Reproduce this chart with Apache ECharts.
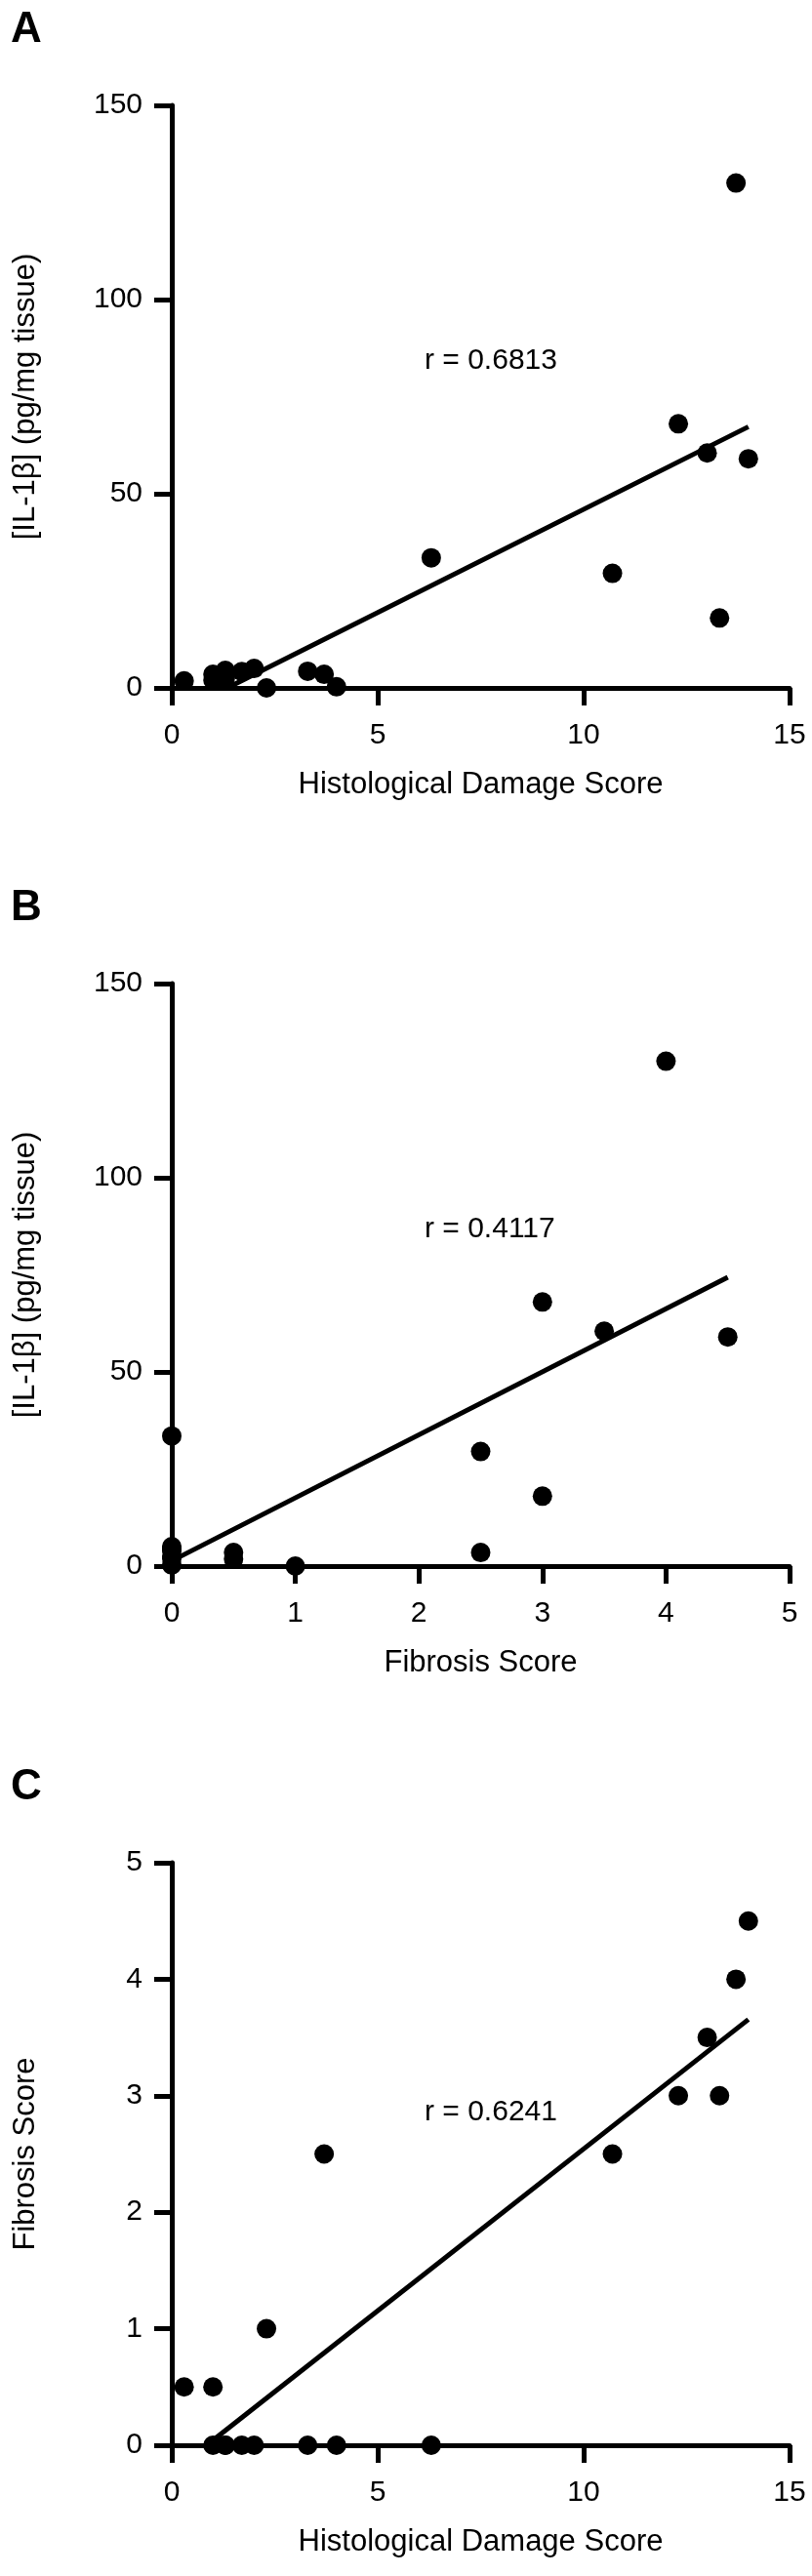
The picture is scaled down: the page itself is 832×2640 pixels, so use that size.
<!DOCTYPE html>
<html><head><meta charset="utf-8">
<script src="https://cdn.jsdelivr.net/npm/echarts@6/dist/echarts.min.js"></script>
<style>html,body{margin:0;padding:0;background:#fff}#c{width:832px;height:2640px}</style>
</head><body><div id="c"></div>
<script>
// per-sample values
const histology = [0.3, 1.0, 1.0, 1.3, 1.3, 1.7, 2.0, 2.3, 3.3, 3.7, 4.0, 6.3, 10.7, 12.3, 13.0, 13.3, 13.7, 14.0];
const il1b      = [1.8, 3.5, 2.0, 4.5, 2.5, 4.2, 5.0, 0.0, 4.3, 3.5, 0.3, 33.5, 29.5, 68, 60.5, 18, 130, 59];
const fibrosis  = [0.5, 0.5, 0.0, 0.0, 0.0, 0.0, 0.0, 1.0, 0.0, 2.5, 0.0, 0.0, 2.5, 3.0, 3.5, 3.0, 4.0, 4.5];
const rLabels = ['r = 0.6813', 'r = 0.4117', 'r = 0.6241'];
const panelLetters = ['A', 'B', 'C'];

function fit(xs, ys){
  const n = xs.length; let mx=0,my=0; for(let i=0;i<n;i++){mx+=xs[i];my+=ys[i];} mx/=n; my/=n;
  let sxy=0,sxx=0; for(let i=0;i<n;i++){sxy+=(xs[i]-mx)*(ys[i]-my); sxx+=(xs[i]-mx)**2;}
  const b=sxy/sxx, a=my-b*mx;
  let x0=Math.min(...xs), x1=Math.max(...xs);
  if(a+b*x0<0) x0=-a/b;
  return [[x0,a+b*x0],[x1,a+b*x1]];
}
const pairs = [[histology, il1b],[fibrosis, il1b],[histology, fibrosis]];
const font = 'Liberation Sans, Arial, Helvetica, sans-serif';
const grids = [{left:176,width:633,top:108,height:597},{left:176,width:633,top:1008,height:597},{left:176,width:633,top:1909,height:597}];
const xAx = [
  {min:0,max:15,interval:5,name:'Histological Damage Score'},
  {min:0,max:5,interval:1,name:'Fibrosis Score'},
  {min:0,max:15,interval:5,name:'Histological Damage Score'}];
const yAx = [
  {min:0,max:150,interval:50,name:'[IL-1β] (pg/mg tissue)'},
  {min:0,max:150,interval:50,name:'[IL-1β] (pg/mg tissue)'},
  {min:0,max:5,interval:1,name:'Fibrosis Score'}];
const axLine = {show:true,lineStyle:{color:'#000',width:5}};
const axTick = {show:true,length:18,lineStyle:{color:'#000',width:5}};
const series=[];
pairs.forEach((p,i)=>{
  series.push({type:'scatter',xAxisIndex:i,yAxisIndex:i,symbolSize:20,itemStyle:{color:'#000',opacity:1},
    data:p[0].map((x,j)=>[x,p[1][j]]),z:3});
  series.push({type:'line',xAxisIndex:i,yAxisIndex:i,data:fit(p[0],p[1]),symbol:'none',
    lineStyle:{color:'#000',width:5},z:2});
});
const titles=[];
panelLetters.forEach((t,i)=>titles.push({text:t,left:6,top:[4,904,1805][i],textStyle:{fontFamily:font,fontSize:44,fontWeight:'bold',color:'#000'}}));
rLabels.forEach((t,i)=>titles.push({text:t,left:430,top:[350,1240,2145][i],textStyle:{fontFamily:font,fontSize:30,fontWeight:'normal',color:'#000'}}));
const chart = echarts.init(document.getElementById('c'),null,{renderer:'canvas'});
chart.setOption({
  animation:false,backgroundColor:'#fff',title:titles,grid:grids,
  xAxis:xAx.map((a,i)=>({type:'value',gridIndex:i,min:a.min,max:a.max,interval:a.interval,name:a.name,
    nameLocation:'middle',nameGap:84,nameTextStyle:{fontFamily:font,fontSize:31,color:'#000'},
    axisLine:axLine,axisTick:axTick,splitLine:{show:false},
    axisLabel:{fontFamily:font,fontSize:30,color:'#000',margin:34}})),
  yAxis:yAx.map((a,i)=>({type:'value',gridIndex:i,min:a.min,max:a.max,interval:a.interval,name:a.name,
    nameLocation:'middle',nameGap:134,nameTextStyle:{fontFamily:font,fontSize:31,color:'#000'},
    axisLine:axLine,axisTick:axTick,splitLine:{show:false},
    axisLabel:{fontFamily:font,fontSize:30,color:'#000',margin:30}})),
  series:series
});
</script></body></html>
